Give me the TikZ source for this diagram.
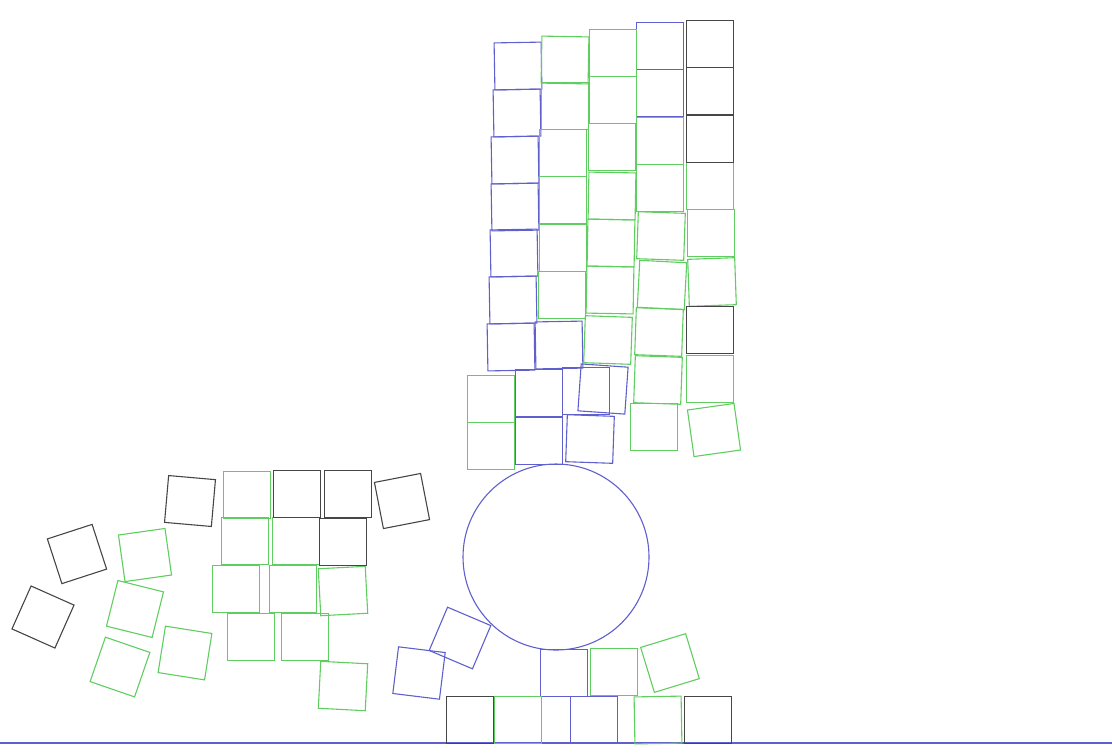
\documentclass[tikz,border=0pt]{standalone}
\usepackage{tikz}
\usetikzlibrary{calc}

\definecolor{boxblue}{RGB}{95,95,205}
\definecolor{boxgreen}{RGB}{95,205,95}
\definecolor{boxblack}{RGB}{70,70,70}

\tikzset{crate/.style={draw=#1, line width=0.55pt}}

\begin{document}
\begin{tikzpicture}[x=0.5pt, y=-0.5pt]
  \useasboundingbox (0,0) rectangle (1112,752);
  % ground
  \draw[crate=boxblue] (0,743) -- (1112,743);
  % ball
  \draw[crate=boxblue] (556,557) circle (93);
  % blue crates (centre x / centre y / angle)
  \foreach \x/\y/\a in {518/66/1, 517/113/1, 515/160/1, 515/207/1, 514/253/1,
      513/300/1, 511/347/1, 559/345/1, 660/46/0, 660/93/0,
      539/393/0, 539/441/0, 586/391/0, 603/389/-4, 590/439/-2,
      594/720/0, 564/673/0, 460/638/-23, 419/673/-7}
    \draw[crate=boxblue, rotate around={\a:(\x,\y)}] (\x-23.5,\y-23.5) rectangle ++(47,47);
  % green crates
  \foreach \x/\y/\a in {565/60/-1, 565/106/0, 563/153/0, 563/200/0, 563/248/0, 562/295/0,
      613/53/0, 613/100/0, 612/147/0, 612/196/-1, 611/243/-1, 610/290/-1, 608/340/-2,
      660/141/0, 660/188/0, 661/236/-2, 662/285/-3, 659/332/-2, 658/380/-2, 654/427/0,
      710/186/0, 711/233/0, 712/282/2, 710/379/0, 714/430/8,
      491/399/0, 491/446/0, 518/720/0, 658/720/1, 614/672/0, 670/663/17,
      247/495/0, 245/541/0, 296/541/0, 236/589/0, 293/589/0, 343/591/3,
      251/637/0, 305/637/0, 343/686/-3,
      145/555/8, 135/609/-14, 120/667/-19, 185/653/-9}
    \draw[crate=boxgreen, rotate around={\a:(\x,\y)}] (\x-23.5,\y-23.5) rectangle ++(47,47);
  % black crates
  \foreach \x/\y/\a in {710/44/0, 710/91/0, 710/139/0, 710/330/0,
      297/494/0, 348/494/0, 402/501/11, 343/542/0,
      190/501/-5, 77/554/18, 43/617/-24, 470/720/0, 708/720/0}
    \draw[crate=boxblack, rotate around={\a:(\x,\y)}] (\x-23.5,\y-23.5) rectangle ++(47,47);
\end{tikzpicture}
\end{document}
